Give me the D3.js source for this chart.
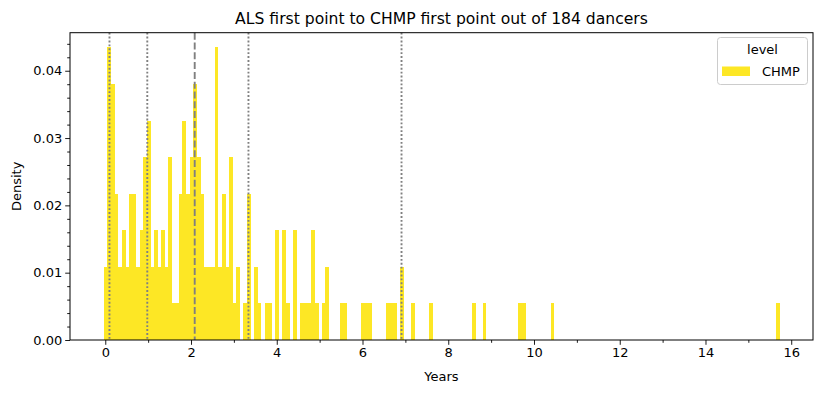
<!DOCTYPE html>
<html><head><meta charset="utf-8">
<script src="https://cdn.jsdelivr.net/npm/d3@7"></script>
<style>body{margin:0;background:#fff}svg{display:block}text{font-family:"DejaVu Sans",sans-serif;fill:#000}</style>
</head><body><svg id="c" width="824" height="393"></svg>
<script>
const nDancers = 184;
const binStart = -0.035;
const binEnd = 15.72;
// counts per bin (189 equal bins)
const binCounts = [
 2,8,7,4,2,3,2,4,4,2, 3,5,6,2,3,2,3,2,5,1,
 1,4,6,4,5,7,5,4,2,2, 2,8,2,4,2,5,1,2,0,1,
 4,0,2,1,0,1,1,0,3,0, 3,1,0,3,0,1,1,1,3,1,
 0,1,2,0,0,0,1,1,0,0, 0,0,1,1,1,0,0,0,0,1,
 1,1,0,2,0,0,1,0,0,0, 0,1,0,0,0,0,0,0,0,0,
 0,0,0,1,0,0,1,0,0,0, 0,0,0,0,0,0,1,1,0,0,
 0,0,0,0,0,1,0,0,0,0, 0,0,0,0,0,0,0,0,0,0,
 0,0,0,0,0,0,0,0,0,0, 0,0,0,0,0,0,0,0,0,0,
 0,0,0,0,0,0,0,0,0,0, 0,0,0,0,0,0,0,0,0,0,
 0,0,0,0,0,0,0,0,1
];
const quantileLabels = ["5%","25%","50%","75%","95%"];
const quantileValues = [0.098, 0.98, 2.086, 3.34, 6.91];
const xTicks = [0,2,4,6,8,10,12,14,16];
const yTicks = [0.00,0.01,0.02,0.03,0.04];
const seriesName = "CHMP";

const svg = d3.select("#c");
const L = 70, R = 813, T = 32.7, B = 340;
const nb = binCounts.length;
const bw = (binEnd - binStart) / nb;
const bins = binCounts.map((c,i)=>({x0: binStart + i*bw, x1: binStart + (i+1)*bw, d: c/nDancers}));
const span = binEnd - binStart;
const maxD = d3.max(bins, d=>d.d);
const x = d3.scaleLinear().domain([binStart - 0.05*span, binEnd + 0.05*span]).range([L, R]);
const y = d3.scaleLinear().domain([0, maxD*1.05]).range([B, T]);
const color = "#fde725";

svg.append("text").attr("x",(L+R)/2).attr("y",24).attr("text-anchor","middle")
  .style("font-size","15.6px").text("ALS first point to CHMP first point out of 184 dancers");

svg.append("g").attr("shape-rendering","crispEdges").selectAll("rect").data(bins.filter(b=>b.d>0)).join("rect")
  .attr("x", d=>x(d.x0)).attr("width", d=>x(d.x1)-x(d.x0)+0.3)
  .attr("y", d=>y(d.d)).attr("height", d=>B - y(d.d)).attr("fill", color);

svg.append("g").selectAll("line").data(quantileValues).join("line")
  .attr("x1", d=>x(d)).attr("x2", d=>x(d)).attr("y1", T).attr("y2", B)
  .attr("stroke","#808080").attr("stroke-width",1.9)
  .attr("stroke-dasharray",(d,i)=>quantileLabels[i]==="50%" ? "7,2.8" : "1.9,2.0");

// axes
const xAxis = d3.axisBottom(x).tickValues(xTicks).tickFormat(d3.format("d")).tickSize(4.8).tickPadding(3);
svg.append("g").attr("transform",`translate(0,${B})`).call(xAxis);
const xMinor = d3.axisBottom(x).tickValues(d3.range(-0,17,1).filter(v=>v%2!==0)).tickFormat("").tickSize(2.8);
svg.append("g").attr("transform",`translate(0,${B})`).call(xMinor);
const yAxis = d3.axisLeft(y).tickValues(yTicks).tickFormat(d3.format(".2f")).tickSize(4.8).tickPadding(3);
svg.append("g").attr("transform",`translate(${L},0)`).call(yAxis);
const yMinor = d3.axisLeft(y).tickValues(d3.range(0,0.0456,0.002).filter(v=>Math.abs(v*100-Math.round(v*100))>1e-6)).tickFormat("").tickSize(2.8);
svg.append("g").attr("transform",`translate(${L},0)`).call(yMinor);
svg.selectAll(".domain").remove();
svg.selectAll(".tick line").attr("stroke","#000").attr("stroke-width",0.9);
svg.selectAll(".tick text").style("font-size","13px").style("font-family","DejaVu Sans");
svg.append("rect").attr("x",L).attr("y",T).attr("width",R-L).attr("height",B-T)
  .attr("fill","none").attr("stroke","#000").attr("stroke-width",1);

svg.append("text").attr("x",(L+R)/2).attr("y",381).attr("text-anchor","middle").style("font-size","13px").text("Years");
svg.append("text").attr("transform",`translate(21,${(T+B)/2}) rotate(-90)`).attr("text-anchor","middle").style("font-size","13px").text("Density");

// legend
const lg = svg.append("g");
lg.append("rect").attr("x",717.5).attr("y",37.5).attr("width",90).attr("height",47).attr("rx",3)
  .attr("fill","#fff").attr("fill-opacity",0.8).attr("stroke","#cccccc").attr("stroke-width",1);
lg.append("text").attr("x",762.5).attr("y",54).attr("text-anchor","middle").style("font-size","13px").text("level");
lg.append("rect").attr("x",722).attr("y",66.5).attr("width",28).attr("height",9.5).attr("fill",color);
lg.append("text").attr("x",762).attr("y",76).style("font-size","13px").text(seriesName);
</script></body></html>
